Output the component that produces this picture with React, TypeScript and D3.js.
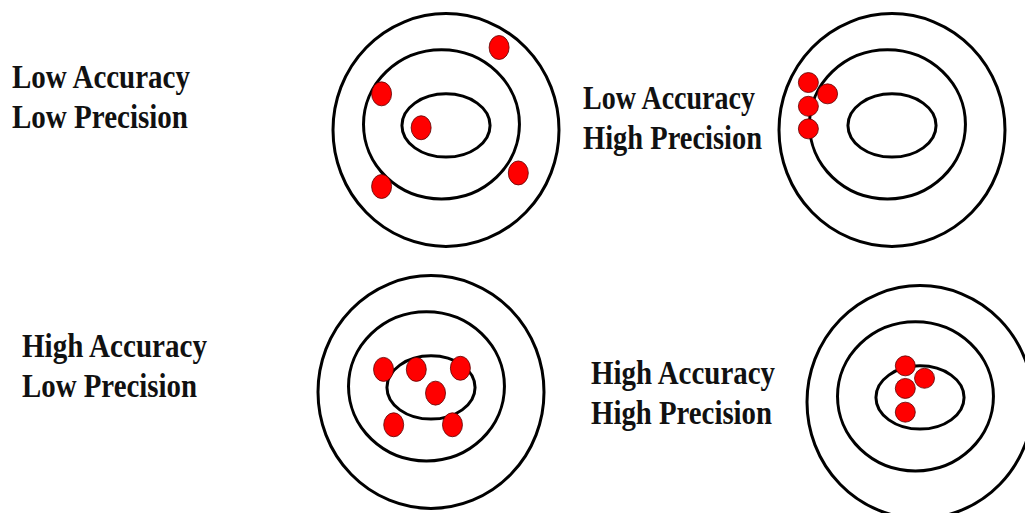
import React from "react";
import * as d3 from "d3";

// Target rings in target units (outer ring radius = 100)
const ringRx = [100, 69, 39];
const ringRy = [103, 66, 28];
const ringDx = [0, -4, 0];
const ringDy = [0, -5, -4];

// Panel titles
const panelTitles = [
  ["Low Accuracy", "Low Precision"],
  ["Low Accuracy", "High Precision"],
  ["High Accuracy", "Low Precision"],
  ["High Accuracy", "High Precision"],
];

// Shots per panel, in target units
const shotsLowLow = [
  [47, -73],
  [-57, -32],
  [-22, -2],
  [-57, 50],
  [64, 38],
];
const shotsLowHigh = [
  [-74, -42],
  [-57, -32],
  [-74, -21],
  [-74, -1],
];
const shotsHighLow = [
  [-42, -20],
  [-13, -20],
  [26, -21],
  [4, 1],
  [-33, 29],
  [19, 29],
];
const shotsHighHigh = [
  [-13, -32],
  [4, -21],
  [-13, -12],
  [-13, 9],
];
const panelShots = [shotsLowLow, shotsLowHigh, shotsHighLow, shotsHighHigh];

// layout (pixels)
const layout = [
  { cx: 446, cy: 130, label: { x: 12, y: 88, w: [178, 176] }, dot: [10, 12] },
  { cx: 892, cy: 130, label: { x: 583, y: 109, w: [172, 179] }, dot: [10, 10] },
  { cx: 431, cy: 392, label: { x: 22, y: 357, w: [185, 175] }, dot: [10, 12] },
  { cx: 920, cy: 402, label: { x: 591, y: 384, w: [184, 181] }, dot: [10, 10] },
];
const R = 113;
const LINE_GAP = 40;

export default function App() {
  return (
    <div style={{ position: "fixed", left: 0, top: 0 }}>
      <svg width={1025} height={513} style={{ display: "block", background: "#fff" }}>
        {layout.map((p, i) => {
          const x = d3.scaleLinear().domain([-100, 100]).range([p.cx - R, p.cx + R]);
          const y = d3.scaleLinear().domain([-100, 100]).range([p.cy - R, p.cy + R]);
          const k = R / 100;
          return (
            <g key={i}>
              {ringRx.map((rx, j) => (
                <ellipse
                  key={j}
                  cx={x(ringDx[j])}
                  cy={y(ringDy[j])}
                  rx={rx * k}
                  ry={ringRy[j] * k}
                  fill="none"
                  stroke="#000"
                  strokeWidth={3}
                />
              ))}
              {panelShots[i].map((s, j) => (
                <ellipse
                  key={j}
                  cx={x(s[0])}
                  cy={y(s[1])}
                  rx={p.dot[0]}
                  ry={p.dot[1]}
                  fill="#ff0000"
                  stroke="#5a0000"
                  strokeWidth={0.8}
                />
              ))}
              {panelTitles[i].map((t, j) => (
                <text
                  key={j}
                  x={p.label.x}
                  y={p.label.y + j * LINE_GAP}
                  fontFamily="'Liberation Serif', 'Times New Roman', serif"
                  fontWeight="bold"
                  fontSize={34}
                  fill="#111"
                  textLength={p.label.w[j]}
                  lengthAdjust="spacingAndGlyphs"
                >
                  {t}
                </text>
              ))}
            </g>
          );
        })}
      </svg>
    </div>
  );
}
